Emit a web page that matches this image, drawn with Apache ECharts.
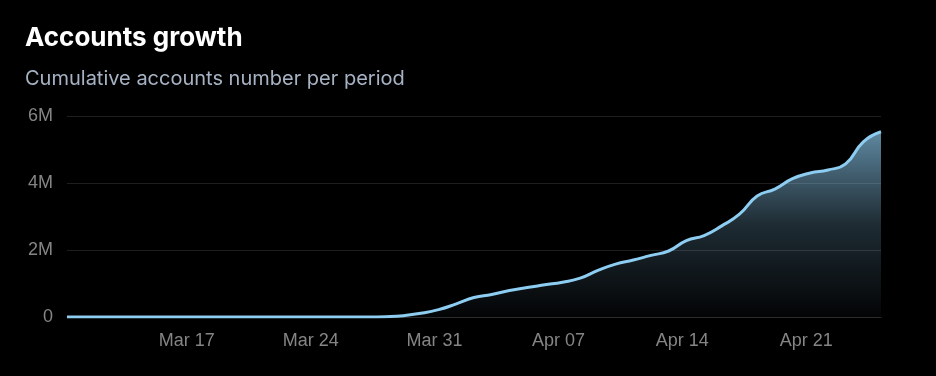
<!DOCTYPE html>
<html>
<head>
<meta charset="utf-8">
<script src="https://cdn.jsdelivr.net/npm/echarts@6/dist/echarts.min.js"></script>
<style>
  html, body { margin: 0; padding: 0; background: #000; }
  #chart { width: 936px; height: 376px; }
</style>
</head>
<body>
<div id="chart"></div>
<script>
// Daily dates (data stamped at 00:00 UTC)
const dates = [
  '2024-03-10','2024-03-11','2024-03-12','2024-03-13','2024-03-14','2024-03-15','2024-03-16',
  '2024-03-17','2024-03-18','2024-03-19','2024-03-20','2024-03-21','2024-03-22','2024-03-23',
  '2024-03-24','2024-03-25','2024-03-26','2024-03-27','2024-03-28','2024-03-29','2024-03-30',
  '2024-03-31','2024-04-01','2024-04-02','2024-04-03','2024-04-04','2024-04-05','2024-04-06',
  '2024-04-07','2024-04-08','2024-04-09','2024-04-10','2024-04-11','2024-04-12','2024-04-13',
  '2024-04-14','2024-04-15','2024-04-16','2024-04-17','2024-04-18','2024-04-19','2024-04-20',
  '2024-04-21','2024-04-22','2024-04-23','2024-04-24','2024-04-25'
];
// Cumulative accounts
const accounts = [
  0, 0, 0, 0, 0, 0, 0,
  0, 0, 0, 0, 0, 0, 0,
  0, 0, 0, 0, 10000, 40000, 110000,
  220000, 390000, 580000, 670000, 790000, 880000, 960000,
  1040000, 1160000, 1390000, 1580000, 1700000, 1840000, 1970000,
  2280000, 2430000, 2720000, 3070000, 3610000, 3820000, 4130000,
  4300000, 4390000, 4570000, 5230000, 5530000
];
// X tick labels (weekly, at local midnight UTC+05:30)
const tickDates = ['2024-03-17','2024-03-24','2024-03-31','2024-04-07','2024-04-14','2024-04-21'];
const tickLabels = ['Mar 17','Mar 24','Mar 31','Apr 07','Apr 14','Apr 21'];
// Y ticks
const yTicks = [0, 2000000, 4000000, 6000000];
const yTickLabels = ['0', '2M', '4M', '6M'];

const DAY = 86400000;
const t0 = Date.parse(dates[0] + 'T00:00:00Z');
const dayOf = d => (Date.parse(d + 'T00:00:00Z') - t0) / DAY;
const localDayOf = d => (Date.parse(d + 'T00:00:00+05:30') - t0) / DAY;
const seriesData = dates.map((d, i) => [dayOf(d), accounts[i]]);
const tickValues = tickDates.map(localDayOf);

const chart = echarts.init(document.getElementById('chart'), null, { renderer: 'canvas' });
chart.setOption({
  backgroundColor: '#000000',
  animation: false,
  title: {
    text: 'Accounts growth',
    subtext: 'Cumulative accounts number per period',
    left: 20,
    top: 20,
    itemGap: 18,
    textStyle: { color: '#ffffff', fontFamily: 'Inter', fontWeight: 700, fontSize: 26 },
    subtextStyle: { color: '#a7b3c4', fontFamily: 'Inter', fontWeight: 400, fontSize: 20 }
  },
  grid: { left: 67, right: 55, top: 116, bottom: 59, containLabel: false },
  xAxis: {
    type: 'value',
    min: dayOf(dates[0]),
    max: dayOf(dates[dates.length - 1]),
    axisLine: { show: true, lineStyle: { color: '#2c2c2c', width: 1 } },
    axisTick: { show: false },
    splitLine: { show: false },
    axisLabel: {
      customValues: tickValues,
      formatter: v => {
        let k = -1;
        tickValues.forEach((t, j) => { if (Math.abs(t - v) < 1e-6) k = j; });
        return k >= 0 ? tickLabels[k] : '';
      },
      color: '#858585',
      fontFamily: 'Liberation Sans',
      fontSize: 18,
      margin: 15
    }
  },
  yAxis: {
    type: 'value',
    min: yTicks[0],
    max: yTicks[yTicks.length - 1],
    interval: yTicks[1] - yTicks[0],
    axisLine: { show: false },
    axisTick: { show: false },
    splitLine: { lineStyle: { color: '#1e1e1e', width: 1 } },
    axisLabel: {
      formatter: v => { const k = yTicks.indexOf(v); return k >= 0 ? yTickLabels[k] : ''; },
      color: '#858585',
      fontFamily: 'Liberation Sans',
      fontSize: 18,
      margin: 14
    }
  },
  series: [{
    type: 'line',
    data: seriesData,
    smooth: 0.5,
    symbol: 'none',
    lineStyle: { color: '#8ecdf2', width: 3 },
    areaStyle: {
      color: new echarts.graphic.LinearGradient(0, 0, 0, 1, [
        { offset: 0, color: 'rgba(142,205,242,0.95)' },
        { offset: 0.5, color: 'rgba(142,205,242,0.30)' },
        { offset: 1, color: 'rgba(142,205,242,0.03)' }
      ])
    }
  }]
});
</script>
</body>
</html>
